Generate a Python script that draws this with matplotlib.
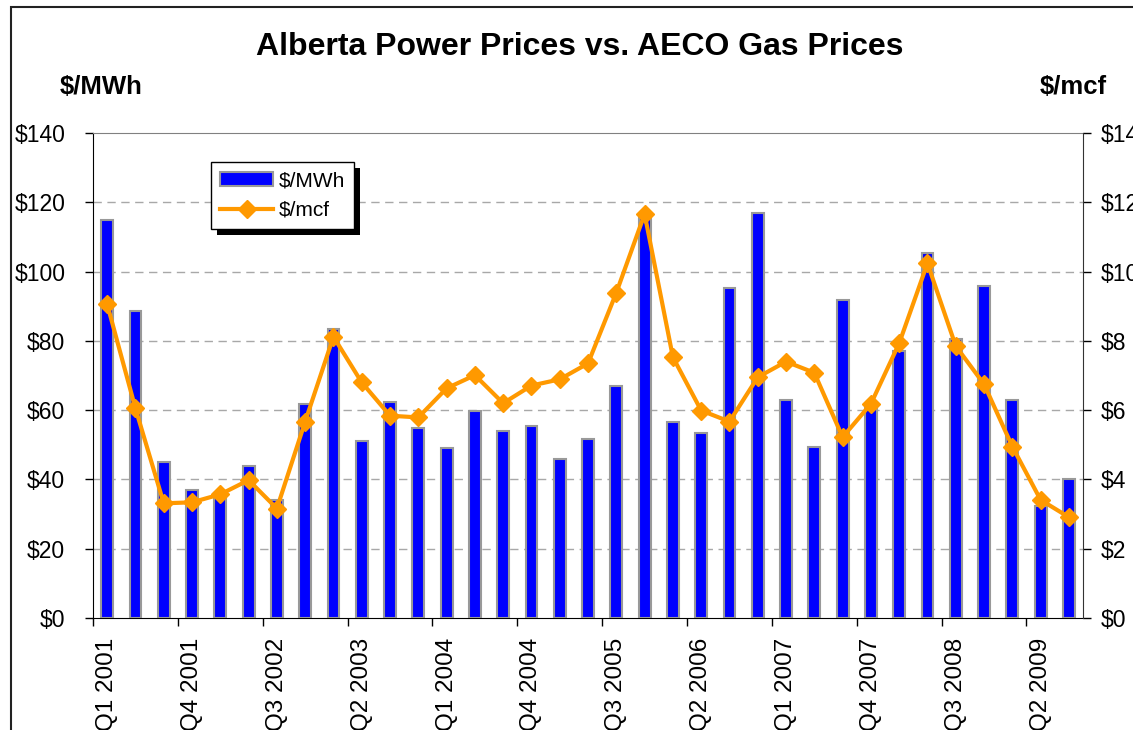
import numpy as np
import matplotlib
matplotlib.use('Agg')
import matplotlib.pyplot as plt
from matplotlib.patches import Rectangle
from matplotlib.lines import Line2D

plt.rcParams['font.family'] = ['Liberation Sans', 'DejaVu Sans']

# quarters Q1 2001 .. Q3 2009
quarters = ['Q1 2001', 'Q2 2001', 'Q3 2001', 'Q4 2001',
            'Q1 2002', 'Q2 2002', 'Q3 2002', 'Q4 2002',
            'Q1 2003', 'Q2 2003', 'Q3 2003', 'Q4 2003',
            'Q1 2004', 'Q2 2004', 'Q3 2004', 'Q4 2004',
            'Q1 2005', 'Q2 2005', 'Q3 2005', 'Q4 2005',
            'Q1 2006', 'Q2 2006', 'Q3 2006', 'Q4 2006',
            'Q1 2007', 'Q2 2007', 'Q3 2007', 'Q4 2007',
            'Q1 2008', 'Q2 2008', 'Q3 2008', 'Q4 2008',
            'Q1 2009', 'Q2 2009', 'Q3 2009']

# Alberta pool price, $/MWh
power = [114.9, 88.6, 45.1, 37.0, 36.0, 43.9, 34.1, 61.8, 83.4, 51.1,
         62.3, 54.8, 49.0, 59.8, 54.1, 55.3, 45.8, 51.6, 67.0, 115.9,
         56.7, 53.5, 95.2, 116.8, 62.9, 49.5, 91.8, 61.5, 77.2, 105.3,
         80.4, 95.7, 62.9, 32.3, 40.0]

# AECO gas, $/mcf
gas = [9.06, 6.05, 3.31, 3.34, 3.57, 3.98, 3.16, 5.67, 8.12, 6.80,
       5.84, 5.79, 6.63, 7.01, 6.20, 6.71, 6.89, 7.35, 9.39, 11.66,
       7.53, 5.99, 5.67, 6.95, 7.40, 7.08, 5.22, 6.18, 7.93, 10.24,
       7.85, 6.75, 4.95, 3.41, 2.91]

left_ticks = [0, 20, 40, 60, 80, 100, 120, 140]
right_ticks = [0, 2, 4, 6, 8, 10, 12, 14]

x = np.arange(len(quarters))

fig = plt.figure(figsize=(11.33, 7.30), dpi=100)
ax = fig.add_axes([0.0821, 0.1534, 0.8738, 0.6644])

# outer chart border (runs off right/bottom edges like the source)
fig.patches.append(Rectangle((0.0097, -0.05), 1.2, 1.0404, transform=fig.transFigure,
                             fill=False, edgecolor='#222222', linewidth=1.5))

ax.bar(x, power, width=0.42, color='#0000FF', edgecolor='#999999', linewidth=1.5, zorder=3)
ax.set_xlim(-0.5, len(quarters) - 0.5)
ax.set_ylim(0, 140)
ax.set_yticks(left_ticks)
ax.set_yticklabels(['$%d' % v for v in left_ticks], fontsize=16.5)
ax.tick_params(axis='y', direction='out', length=6, width=1, pad=14)

# grid
for v in left_ticks[1:-1]:
    ax.axhline(v, color='#A8A8A8', linestyle=(0, (6, 4)), linewidth=1, zorder=1)

# x ticks: labels every 3rd quarter, tick marks at boundaries
ax.set_xticks(x[::3])
ax.set_xticklabels(quarters[::3], rotation=90, fontsize=17.5, va='top')
ax.tick_params(axis='x', which='major', length=0, pad=14)
ax.set_xticks(np.arange(-0.5, len(quarters), 3), minor=True)
ax.tick_params(axis='x', which='minor', length=6, width=1, direction='out')

ax.spines['top'].set_color('#808080')
ax.spines['left'].set_color('black')
ax.spines['bottom'].set_color('black')
ax.spines['right'].set_visible(False)

ax2 = ax.twinx()
ax2.plot(x, gas, color='#FF9900', linewidth=3, marker='D', markersize=9.5,
         markeredgecolor='#FF9900', zorder=4)
ax2.set_ylim(0, 14)
ax2.set_yticks(right_ticks)
ax2.set_yticklabels(['$%d' % v for v in right_ticks], fontsize=16.5)
ax2.tick_params(axis='y', direction='out', length=6, width=1, pad=7)
ax2.spines['right'].set_color('#333333')
ax2.spines['top'].set_visible(False)
ax2.spines['left'].set_visible(False)
ax2.spines['bottom'].set_visible(False)

handles = [Rectangle((0, 0), 1, 1, facecolor='#0000FF', edgecolor='#999999', linewidth=1.5),
           Line2D([], [], color='#FF9900', linewidth=3, marker='D', markersize=9.5)]
leg = ax2.legend(handles, ['$/MWh', '$/mcf'], loc='upper left',
                 bbox_to_anchor=(0.119, 0.940), fontsize=15, fancybox=False,
                 edgecolor='black', framealpha=1, borderaxespad=0,
                 handlelength=2.55, handletextpad=0.25, borderpad=0.45,
                 labelspacing=0.5)
leg.get_frame().set_linewidth(1)
leg.set_zorder(6)

fig.text(0.512, 0.935, 'Alberta Power Prices vs. AECO Gas Prices', ha='center', va='center',
         fontsize=23, fontweight='bold')
fig.text(0.053, 0.871, '$/MWh', ha='left', va='baseline', fontsize=18.5, fontweight='bold')
fig.text(0.918, 0.871, '$/mcf', ha='left', va='baseline', fontsize=18.5, fontweight='bold')

# solid black drop shadow behind the legend box
fig.canvas.draw()
bb = leg.get_window_extent()
ax2.add_patch(Rectangle((bb.x0 + 6, bb.y0 - 6), bb.width, bb.height, transform=None,
                        facecolor='black', edgecolor='none', zorder=5, clip_on=False))

fig.savefig('out.png', dpi=100)
